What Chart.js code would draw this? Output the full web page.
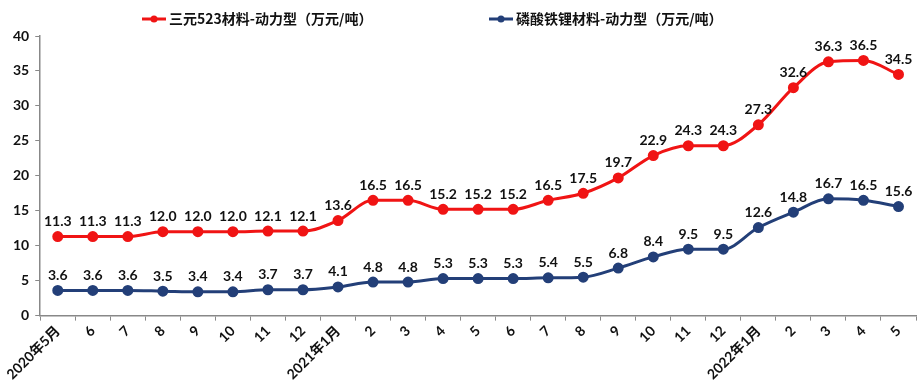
<!DOCTYPE html>
<html>
<head>
<meta charset="utf-8">
<script src="https://cdn.jsdelivr.net/npm/chart.js@4/dist/chart.umd.min.js"></script>
<style>
  html, body { margin: 0; padding: 0; background: #fff; }
  #wrap { width: 924px; height: 385px; position: relative; }
</style>
</head>
<body>
<div id="wrap"><canvas id="grafico" width="924" height="385"></canvas></div>
<script>
// dados
const meses = ['2020年5月', '6', '7', '8', '9', '10', '11', '12',
  '2021年1月', '2', '3', '4', '5', '6', '7', '8', '9', '10', '11', '12',
  '2022年1月', '2', '3', '4', '5'];
const ternario523 = [11.3, 11.3, 11.3, 12.0, 12.0, 12.0, 12.1, 12.1, 13.6, 16.5, 16.5, 15.2, 15.2,
  15.2, 16.5, 17.5, 19.7, 22.9, 24.3, 24.3, 27.3, 32.6, 36.3, 36.5, 34.5];
const lfp = [3.6, 3.6, 3.6, 3.5, 3.4, 3.4, 3.7, 3.7, 4.1, 4.8, 4.8, 5.3, 5.3,
  5.3, 5.4, 5.5, 6.8, 8.4, 9.5, 9.5, 12.6, 14.8, 16.7, 16.5, 15.6];
const nomes = ['三元523材料-动力型（万元/吨）', '磷酸铁锂材料-动力型（万元/吨）'];
const yTicks = [0, 5, 10, 15, 20, 25, 30, 35, 40];

const corVermelho = '#f01414';
const corAzul = '#233f78';
const fonteNum = 'Lato, "Noto Sans CJK SC", sans-serif';

// rotulos de valor acima de cada ponto
const rotulosPlugin = {
  id: 'rotulos',
  afterDatasetsDraw(chart) {
    const ctx = chart.ctx;
    ctx.save();
    ctx.font = 'bold 14px ' + fonteNum;
    ctx.fillStyle = '#111';
    ctx.textAlign = 'center';
    ctx.textBaseline = 'bottom';
    chart.data.datasets.forEach((ds, i) => {
      chart.getDatasetMeta(i).data.forEach((pt, j) => {
        ctx.fillText(ds.data[j].toFixed(1), pt.x, pt.y - 8);
      });
    });
    ctx.restore();
  }
};

// legenda com linha + ponto
const legendaPlugin = {
  id: 'legenda',
  afterDraw(chart) {
    const ctx = chart.ctx;
    const itens = [{ x: 142, cor: corVermelho }, { x: 489, cor: corAzul }];
    ctx.save();
    ctx.font = 'bold 14px "Noto Sans CJK SC", sans-serif';
    ctx.textBaseline = 'middle';
    itens.forEach((it, i) => {
      const y = 19;
      ctx.strokeStyle = it.cor;
      ctx.lineWidth = 3;
      ctx.beginPath();
      ctx.moveTo(it.x, y);
      ctx.lineTo(it.x + 24, y);
      ctx.stroke();
      ctx.fillStyle = it.cor;
      ctx.beginPath();
      ctx.arc(it.x + 12, y, 3.5, 0, Math.PI * 2);
      ctx.fill();
      ctx.fillStyle = '#111';
      ctx.fillText(nomes[i], it.x + 27, y);
    });
    ctx.restore();
  }
};

const ctx = document.getElementById('grafico').getContext('2d');
new Chart(ctx, {
  type: 'line',
  data: {
    labels: meses,
    datasets: [
      {
        label: nomes[0], data: ternario523, borderColor: corVermelho, backgroundColor: corVermelho,
        borderWidth: 3, pointRadius: 4, pointBackgroundColor: corVermelho, cubicInterpolationMode: 'monotone'
      },
      {
        label: nomes[1], data: lfp, borderColor: corAzul, backgroundColor: corAzul,
        borderWidth: 3, pointRadius: 4, pointBackgroundColor: corAzul, cubicInterpolationMode: 'monotone'
      }
    ]
  },
  options: {
    responsive: false,
    animation: false,
    layout: { padding: { top: 36, right: 8, left: 7, bottom: 0 } },
    plugins: {
      legend: { display: false },
      tooltip: { enabled: false }
    },
    scales: {
      x: {
        offset: true,
        grid: { display: true, drawOnChartArea: false, drawTicks: true, tickLength: 5, offset: true, color: '#888' },
        border: { color: '#888', width: 1.5 },
        ticks: {
          color: '#111', minRotation: 45, maxRotation: 45, autoSkip: false, padding: 2,
          font: { family: fonteNum, size: 14, weight: 'bold' }
        }
      },
      y: {
        min: 0, max: 40,
        afterBuildTicks: axis => { axis.ticks = yTicks.map(v => ({ value: v })); },
        grid: { display: true, drawOnChartArea: false, drawTicks: true, tickLength: 5, color: '#888' },
        border: { color: '#888', width: 1.5 },
        ticks: {
          color: '#111', padding: 6,
          font: { family: fonteNum, size: 14, weight: 'bold' }
        }
      }
    }
  },
  plugins: [rotulosPlugin, legendaPlugin]
});
</script>
</body>
</html>
